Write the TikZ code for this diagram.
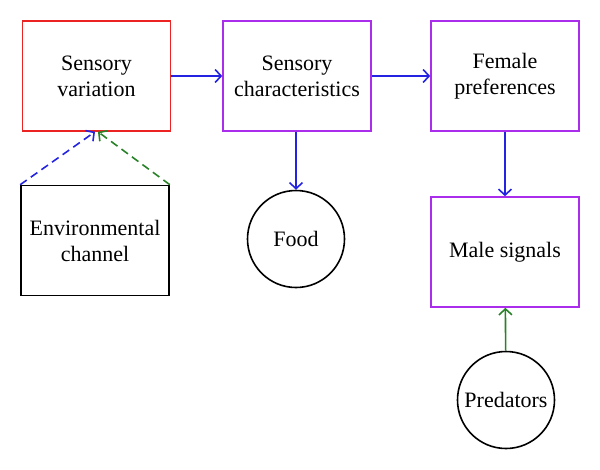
\documentclass[tikz,border=0pt]{standalone}
\usepackage{fontspec}
\setmainfont{Liberation Serif}
\usetikzlibrary{arrows.meta}
\definecolor{boxred}{RGB}{235,35,35}
\definecolor{boxpurple}{RGB}{170,45,235}
\definecolor{arrblue}{RGB}{35,35,225}
\definecolor{arrgreen}{RGB}{40,130,40}
\begin{document}
\begin{tikzpicture}[x=1pt,y=1pt,
  every node/.style={font=\fontsize{22}{26}\selectfont, align=center},
  stage/.style={draw, line width=1.6pt, minimum width=148pt, minimum height=110pt, inner sep=0pt},
  factor/.style={draw, circle, line width=1.6pt, minimum size=97pt, inner sep=0pt},
  link/.style={->, line width=1.6pt},
  >={Straight Barb[length=6pt,width=13pt]}]
  \useasboundingbox (0,0) rectangle (600,-469);
  \node[stage, draw=boxred] (sv) at (96.5,-76) {Sensory\\variation};
  \node[stage, draw=boxpurple] (sc) at (297,-76) {Sensory\\characteristics};
  \node[stage, draw=boxpurple] (fp) at (505,-76) {Female\\preferences};
  \node[stage, draw=boxpurple] (ms) at (505,-252) {Male signals};
  \node[stage, draw=black] (env) at (95,-240.5) {Environmental\\channel};
  \node[factor] (food) at (296,-239) {Food};
  \node[factor] (pred) at (506,-400) {Predators};
  \draw[link, arrblue] (sv) -- (sc);
  \draw[link, arrblue] (sc) -- (fp);
  \draw[link, arrblue] (sc.south -| food.north) -- (food.north);
  \draw[link, arrblue] (fp) -- (ms);
  \draw[link, arrgreen] (pred) -- (ms);
  \draw[link, arrblue, dash pattern=on 8pt off 5pt] (env.north west) -- ([xshift=-1.5pt]sv.south);
  \draw[link, arrgreen, dash pattern=on 8pt off 5pt] (env.north east) -- ([xshift=1.5pt]sv.south);
\end{tikzpicture}
\end{document}
